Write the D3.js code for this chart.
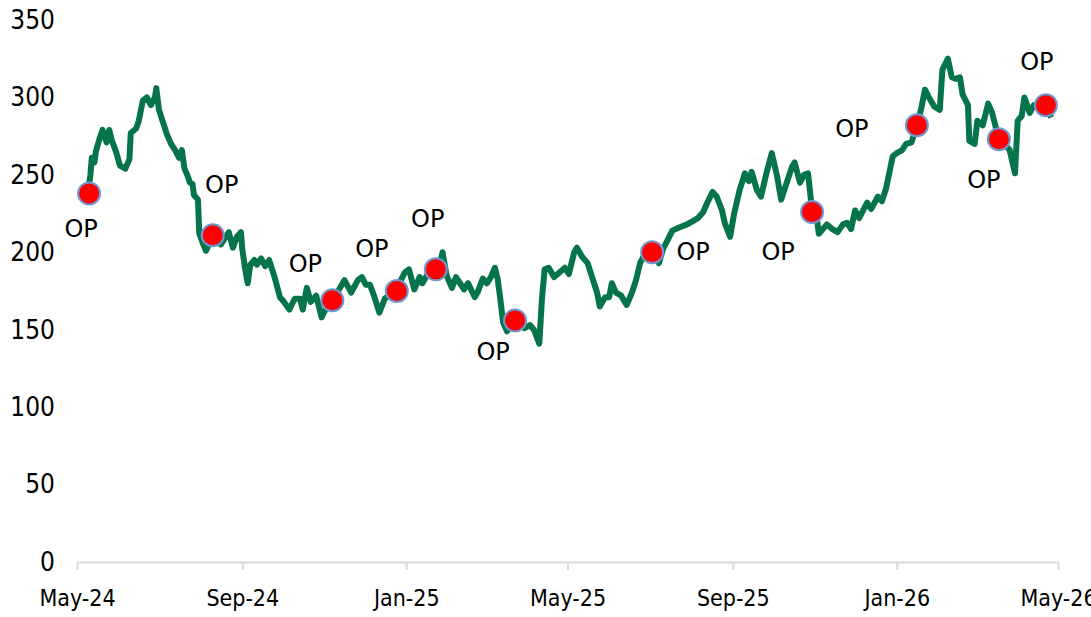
<!DOCTYPE html>
<html>
<head>
<meta charset="utf-8">
<script src="https://cdn.jsdelivr.net/npm/d3@7"></script>
<style>
  body { margin: 0; background: #fff; }
  svg text { font-family: "DejaVu Sans Condensed", "DejaVu Sans", sans-serif; fill: #000; }
</style>
</head>
<body>
<div id="chart"></div>
<script>
// Price series
const dates = [
  "2024-05-09","2024-05-11","2024-05-12","2024-05-14","2024-05-15","2024-05-18","2024-05-20","2024-05-23","2024-05-25","2024-05-27",
  "2024-05-30","2024-06-02","2024-06-06","2024-06-09","2024-06-10","2024-06-14","2024-06-16","2024-06-19","2024-06-22","2024-06-25",
  "2024-06-28","2024-06-29","2024-07-01","2024-07-04","2024-07-07","2024-07-10","2024-07-13","2024-07-16","2024-07-18","2024-07-20",
  "2024-07-22","2024-07-24","2024-07-26","2024-07-27","2024-07-30","2024-07-31","2024-08-03","2024-08-05","2024-08-08","2024-08-10",
  "2024-08-13","2024-08-16","2024-08-19","2024-08-22","2024-08-25","2024-08-28","2024-08-31","2024-09-01","2024-09-03","2024-09-05",
  "2024-09-07","2024-09-10","2024-09-12","2024-09-15","2024-09-18","2024-09-21","2024-09-25","2024-09-29","2024-10-02","2024-10-06",
  "2024-10-10","2024-10-14","2024-10-16","2024-10-19","2024-10-22","2024-10-26","2024-10-30","2024-11-03","2024-11-07","2024-11-12",
  "2024-11-16","2024-11-21","2024-11-26","2024-11-29","2024-12-02","2024-12-05","2024-12-08","2024-12-12","2024-12-16","2024-12-19",
  "2024-12-25","2024-12-28","2024-12-31","2025-01-03","2025-01-07","2025-01-11","2025-01-13","2025-01-17","2025-01-23","2025-01-26",
  "2025-01-28","2025-01-31","2025-02-04","2025-02-07","2025-02-10","2025-02-13","2025-02-16","2025-02-21","2025-02-23","2025-02-27",
  "2025-03-02","2025-03-05","2025-03-08","2025-03-10","2025-03-12","2025-03-14","2025-03-17","2025-03-23","2025-03-26","2025-03-30",
  "2025-04-03","2025-04-06","2025-04-10","2025-04-12","2025-04-14","2025-04-17","2025-04-21","2025-04-25","2025-04-29","2025-05-02",
  "2025-05-06","2025-05-08","2025-05-12","2025-05-16","2025-05-20","2025-05-23","2025-05-25","2025-05-29","2025-06-01","2025-06-03",
  "2025-06-06","2025-06-10","2025-06-14","2025-06-18","2025-06-21","2025-06-24","2025-06-27","2025-07-03","2025-07-06","2025-07-08",
  "2025-07-11","2025-07-14","2025-07-18","2025-07-23","2025-07-29","2025-08-02","2025-08-06","2025-08-10","2025-08-13","2025-08-17",
  "2025-08-20","2025-08-24","2025-08-26","2025-08-30","2025-09-02","2025-09-06","2025-09-10","2025-09-13","2025-09-15","2025-09-19",
  "2025-09-22","2025-09-26","2025-09-30","2025-10-04","2025-10-07","2025-10-10","2025-10-15","2025-10-17","2025-10-21","2025-10-24",
  "2025-10-27","2025-10-29","2025-10-30","2025-11-03","2025-11-04","2025-11-10","2025-11-14","2025-11-18","2025-11-22","2025-11-25",
  "2025-11-28","2025-12-01","2025-12-04","2025-12-10","2025-12-13","2025-12-18","2025-12-21","2025-12-24","2025-12-29","2026-01-01",
  "2026-01-05","2026-01-08","2026-01-12","2026-01-16","2026-01-19","2026-01-22","2026-01-25","2026-01-29","2026-02-02","2026-02-04",
  "2026-02-08","2026-02-11","2026-02-14","2026-02-17","2026-02-19","2026-02-23","2026-02-24","2026-02-28","2026-03-02","2026-03-06",
  "2026-03-10","2026-03-13","2026-03-18","2026-03-22","2026-03-26","2026-03-30","2026-04-01","2026-04-04","2026-04-06","2026-04-10",
  "2026-04-13","2026-04-17","2026-04-22","2026-04-26"
];
const prices = [
  238,250,261,258,265,274,279,271,279,272,
  265,256,254,260,277,280,285,298,300,295,
  300,306,292,284,276,270,266,261,266,254,
  250,245,244,237,234,212,205,201,207,212,
  216,205,209,213,203,210,213,202,190,180,
  192,195,192,196,191,195,184,171,168,163,
  170,170,163,177,168,172,158,165,169,176,
  182,174,182,184,179,179,172,161,170,172,
  175,182,187,189,176,184,180,186,189,192,
  200,185,177,184,180,176,180,171,174,183,
  180,184,190,183,170,155,149,156,155,151,
  153,150,141,170,189,190,184,187,190,186,
  200,203,197,193,182,174,165,171,171,180,
  174,172,166,174,182,193,198,200,196,193,
  202,207,214,216,218,220,222,226,232,239,
  236,227,219,210,225,240,251,246,252,240,
  236,251,264,249,234,242,255,258,245,250,
  251,235,226,219,212,218,215,213,218,219,
  215,227,222,232,228,236,233,241,262,264,
  266,270,271,282,292,305,300,294,292,318,
  325,313,312,313,302,295,272,270,285,282,
  296,290,273,270,266,251,285,288,300,290,
  295,293,295,287
];

// "OP" markers
const opDates = ["2024-05-10","2024-08-10","2024-11-07","2024-12-25","2025-01-23","2025-03-23",
                 "2025-07-03","2025-10-30","2026-01-16","2026-03-18","2026-04-22"];
const opValues = [238, 211, 169, 175, 189, 156, 200, 226, 282, 273, 295];
const opLabel = "OP";

// Axis ticks
const xTicks = ["2024-05-01","2024-09-01","2025-01-01","2025-05-01","2025-09-01","2026-01-01","2026-05-01"];
const yTicks = [0, 50, 100, 150, 200, 250, 300, 350];

const W = 1091, H = 617;
const margin = { top: 20, right: 33, bottom: 55, left: 77 };
const parse = d3.utcParse("%Y-%m-%d");

const svg = d3.select("#chart").append("svg")
  .attr("width", W)
  .attr("height", H);

const x = d3.scaleUtc()
  .domain([parse(xTicks[0]), parse(xTicks[xTicks.length - 1])])
  .range([margin.left, W - margin.right]);

const y = d3.scaleLinear()
  .domain([0, 350])
  .range([H - margin.bottom, margin.top]);

// X axis
const xAxis = svg.append("g")
  .attr("transform", `translate(0,${H - margin.bottom})`)
  .call(d3.axisBottom(x)
    .tickValues(xTicks.map(parse))
    .tickFormat(d3.utcFormat("%b-%y"))
    .tickSize(8)
    .tickSizeOuter(0)
    .tickPadding(20));
xAxis.select(".domain").attr("stroke", "#d9d9d9").attr("stroke-width", 2);
xAxis.selectAll(".tick line").attr("stroke", "#d9d9d9").attr("stroke-width", 2);
xAxis.selectAll("text").style("font-size", "23px").attr("fill", "#000");

// Y axis (labels only)
const yAxis = svg.append("g")
  .attr("transform", `translate(${margin.left},0)`)
  .call(d3.axisLeft(y).tickValues(yTicks).tickSize(0).tickPadding(22));
yAxis.select(".domain").remove();
yAxis.selectAll("text").style("font-size", "26px").attr("fill", "#000");

// Line
const series = dates.map((d, i) => ({ date: parse(d), value: prices[i] }));
const line = d3.line()
  .x(d => x(d.date))
  .y(d => y(d.value));

svg.append("path")
  .datum(series)
  .attr("fill", "none")
  .attr("stroke", "#06744a")
  .attr("stroke-width", 6)
  .attr("stroke-linejoin", "round")
  .attr("d", line);

// OP markers
const ops = opDates.map((d, i) => ({ date: parse(d), value: opValues[i] }));
// label placement relative to marker (dx, dy)
const labelOffsets = [[-8, 36], [9, -50], [-27, -36], [-25, -42], [-8, -50], [-22, 32],
                      [41, 0], [-34, 40], [-65, 4], [-15, 41], [-9, -43]];

svg.selectAll(".op-dot")
  .data(ops)
  .enter()
  .append("circle")
  .attr("class", "op-dot")
  .attr("cx", d => x(d.date))
  .attr("cy", d => y(d.value))
  .attr("r", 11)
  .attr("fill", "#ff0000")
  .attr("stroke", "#6f97d2")
  .attr("stroke-width", 2);

svg.selectAll(".op-label")
  .data(ops)
  .enter()
  .append("text")
  .attr("class", "op-label")
  .attr("x", (d, i) => x(d.date) + labelOffsets[i][0])
  .attr("y", (d, i) => y(d.value) + labelOffsets[i][1])
  .attr("text-anchor", "middle")
  .attr("dominant-baseline", "central")
  .style("font-family", "'DejaVu Sans', sans-serif")
  .style("font-size", "24px")
  .text(opLabel);
</script>
</body>
</html>
